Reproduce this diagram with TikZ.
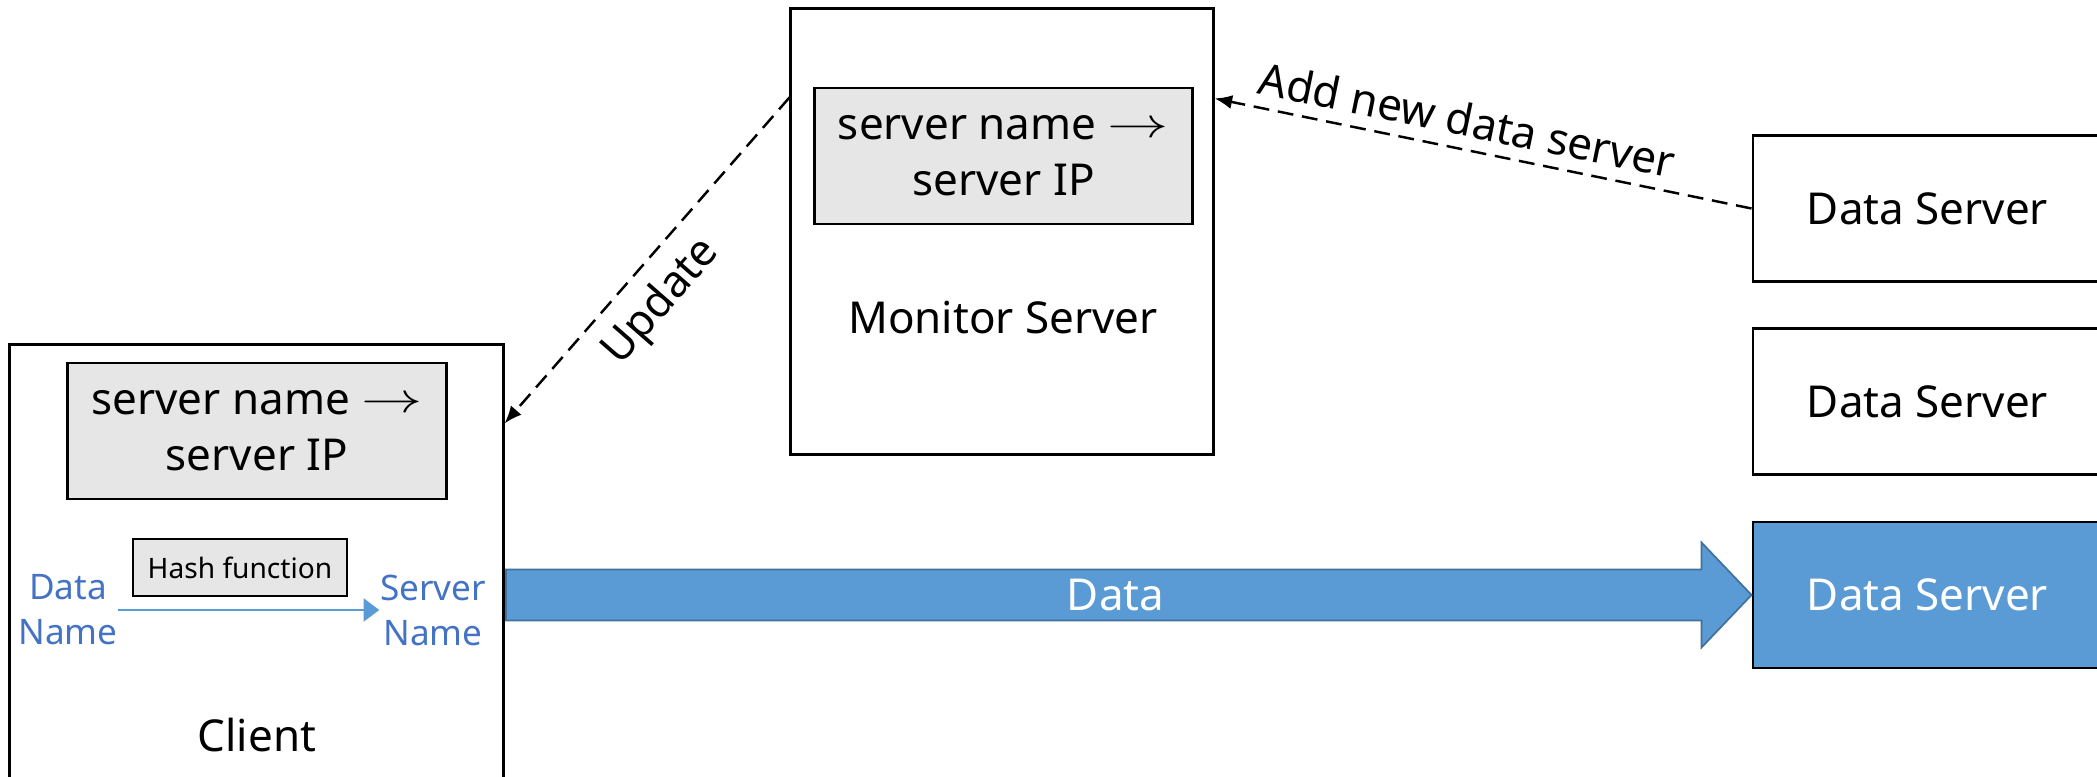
\documentclass[tikz,border=0pt]{standalone}
\usepackage{fontspec}
\setmainfont{Noto Sans}
\usetikzlibrary{calc,arrows.meta}
\definecolor{officeblue}{HTML}{5B9BD5}
\definecolor{bluetext}{HTML}{4472C4}
\definecolor{arrowedge}{HTML}{41719C}
\definecolor{tablegray}{HTML}{E6E6E6}
\newcommand{\maparrow}{\raisebox{0.1ex}{\scalebox{1.45}[1]{$\rightarrow$}}}
\begin{document}
\begin{tikzpicture}[x=0.01cm,y=-0.01cm,
  box/.style={draw,line width=0.8pt,inner sep=0pt},
  maptable/.style={box,fill=tablegray,font=\fontsize{12.5}{16}\selectfont,align=center,minimum width=3.78cm,minimum height=1.36cm},
  big/.style={font=\fontsize{12.5}{15}\selectfont},
  bluelbl/.style={font=\fontsize{10}{12.8}\selectfont,text=bluetext,align=center,inner sep=0pt},
  dsbox/.style={box,big,minimum width=3.49cm,minimum height=1.46cm},
  dashconn/.style={draw,line width=0.7pt,dash pattern=on 4.5pt off 2.5pt,-{Latex[length=5pt,width=4pt]}}]
\clip (0,0) rectangle (2097,777);
% client
\node[box,minimum width=4.93cm,minimum height=4.55cm] (client) at (256.5,572.5) {};
\node[maptable] (ctable) at (257,431) {server name \maparrow\\server IP};
\node[box,fill=tablegray,font=\fontsize{8}{10}\selectfont,minimum width=2.14cm,minimum height=0.57cm] (hash) at (240,567.5) {Hash function};
\node[bluelbl] (dname) at (68,610) {Data\\Name};
\node[bluelbl] (sname) at (433,610) {Server\\Name};
\draw[officeblue,line width=0.8pt,-{Triangle[length=4.5pt,width=6.5pt]}] (dname.east) -- (sname.west);
\node[big] (clientlbl) at (257,735) {Client};
% monitor
\node[box,minimum width=4.22cm,minimum height=4.45cm] (monitor) at (1002,231.5) {};
\node[maptable,minimum width=3.77cm] (mtable) at (1003.5,156) {server name \maparrow\\server IP};
\node[big] (mlbl) at (1003,318) {Monitor Server};
% data servers
\node[dsbox] (ds1) at (1927.5,208.5) {Data Server};
\node[dsbox] (ds2) at (1927.5,401.5) {Data Server};
\node[dsbox,fill=officeblue,text=white] (ds3) at (1927.5,595) {Data Server};
% big data arrow
\coordinate (as) at (client.east |- ds3.west);
\filldraw[fill=officeblue,draw=arrowedge,line width=0.5pt]
  ($(as)+(1.5,-25.5)$) -- ($(ds3.west)+(-50,-25.5)$) -- ($(ds3.west)+(-50,-52.5)$) -- (ds3.west)
  -- ($(ds3.west)+(-50,52.5)$) -- ($(ds3.west)+(-50,25.5)$) -- ($(as)+(1.5,25.5)$) -- cycle;
\node[big,text=white] (datalbl) at ($(as)!0.49!(ds3.west)$) {Data};
% update
\coordinate (u1) at ($(monitor.north west)+(0,90)$);
\coordinate (u2) at ($(client.north east)+(0,80)$);
\draw[dashconn] (u1) -- node[pos=0.55,sloped,below=1pt,big] (updlbl) {Update} (u2);
% add new data server
\coordinate (a2) at ($(monitor.north east)+(0,91)$);
\draw[dashconn] (ds1.west) -- node[pos=0.54,sloped,above,big] (addlbl) {Add new data server} (a2);
\end{tikzpicture}
\end{document}
